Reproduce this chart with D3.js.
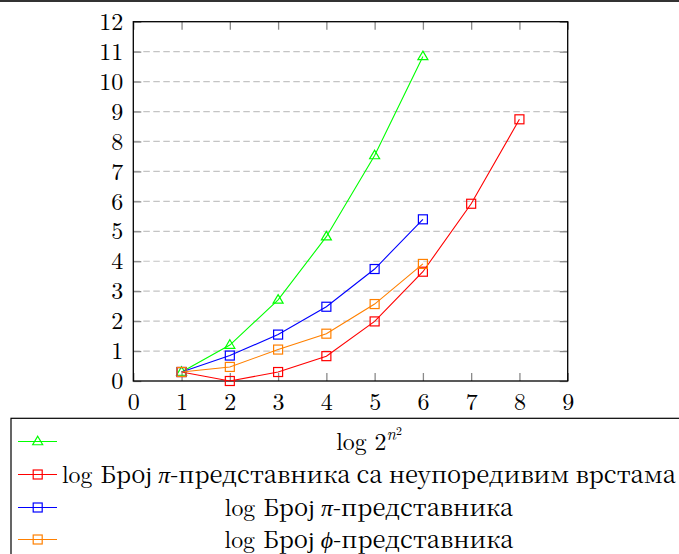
<!DOCTYPE html>
<html>
<head>
<meta charset="utf-8">
<script src="https://cdn.jsdelivr.net/npm/d3@7"></script>
</head>
<body style="margin:0;padding:0;background:#fff">
<svg id="chart" width="679" height="554" style="display:block"></svg>
<script>
// ---- data ----
const xTicks = [0,1,2,3,4,5,6,7,8,9];
const yTicks = [0,1,2,3,4,5,6,7,8,9,10,11,12];
const nGreen = [1,2,3,4,5,6];
const green = [0.30, 1.20, 2.71, 4.82, 7.53, 10.84];
const nRed = [1,2,3,4,5,6,7,8];
const red = [0.30, 0.00, 0.30, 0.83, 1.99, 3.65, 5.92, 8.74];
const nBlue = [1,2,3,4,5,6];
const blue = [0.30, 0.85, 1.55, 2.48, 3.74, 5.40];
const nOrange = [1,2,3,4,5,6];
const orange = [0.30, 0.47, 1.05, 1.58, 2.57, 3.91];

const series = [
  {n:nGreen, v:green, color:"#00ff00", mark:"triangle"},
  {n:nRed, v:red, color:"#ff0000", mark:"square"},
  {n:nBlue, v:blue, color:"#0000ff", mark:"square"},
  {n:nOrange, v:orange, color:"#ff8000", mark:"square"}
];

const FONT = '"Latin Modern Roman"';
const CYR = '"Noto Serif CJK SC"';
const svg = d3.select("#chart").attr("font-family",FONT);
const L = 133.3, R = 567.7, T = 21.7, B = 381;
const x = d3.scaleLinear().domain([0,9]).range([L,R]);
const y = d3.scaleLinear().domain([0,12]).range([B,T]);

// top rule
svg.append("line").attr("x1",0).attr("x2",679).attr("y1",1).attr("y2",1)
  .attr("stroke","#333").attr("stroke-width",2);

// grid
svg.append("g").selectAll("line").data(yTicks.filter(d=>d>0&&d<12)).join("line")
  .attr("x1",L).attr("x2",R).attr("y1",d=>y(d)).attr("y2",d=>y(d))
  .attr("stroke","#c4c4c4").attr("stroke-width",1.2).attr("stroke-dasharray","6.5,3.5");

function styleAxis(g, labels){
  g.attr("font-family",FONT).attr("font-size",null);
  g.select(".domain").remove();
  g.selectAll(".tick line").attr("stroke","#8a8a8a").attr("stroke-width",1.3);
  if(!labels) g.selectAll(".tick text").remove();
  else g.selectAll(".tick text").attr("font-size","24px").attr("font-family",FONT).attr("fill","#000");
}
svg.append("g").attr("transform",`translate(0,${B})`)
  .call(d3.axisBottom(x).tickValues(xTicks).tickSize(-8).tickPadding(11.5).tickFormat(d3.format("d")))
  .call(g=>styleAxis(g,true));
svg.append("g").attr("transform",`translate(0,${T})`)
  .call(d3.axisTop(x).tickValues(xTicks).tickSize(-8))
  .call(g=>styleAxis(g,false));
svg.append("g").attr("transform",`translate(${L},0)`)
  .call(d3.axisLeft(y).tickValues(yTicks).tickSize(-8).tickPadding(10).tickFormat(d3.format("d")))
  .call(g=>styleAxis(g,true));
svg.append("g").attr("transform",`translate(${R},0)`)
  .call(d3.axisRight(y).tickValues(yTicks).tickSize(-8))
  .call(g=>styleAxis(g,false));

// frame
svg.append("rect").attr("x",L).attr("y",T).attr("width",R-L).attr("height",B-T)
  .attr("fill","none").attr("stroke","#000").attr("stroke-width",1.3);

const sq = 9;
function drawMark(g, type, cx, cy, color){
  if(type==="square"){
    g.append("rect").attr("x",cx-sq/2).attr("y",cy-sq/2).attr("width",sq).attr("height",sq)
      .attr("fill","none").attr("stroke",color).attr("stroke-width",1.2);
  } else {
    const h = 8.5, w = 10;
    g.append("path").attr("d",`M${cx},${cy-h*0.62}L${cx+w/2},${cy+h*0.38}L${cx-w/2},${cy+h*0.38}Z`)
      .attr("fill","none").attr("stroke",color).attr("stroke-width",1.2);
  }
}

const line = d3.line().x(d=>x(d[0])).y(d=>y(d[1]));
series.forEach(s=>{
  const pts = s.n.map((n,i)=>[n,s.v[i]]);
  const g = svg.append("g");
  g.append("path").attr("d",line(pts)).attr("fill","none").attr("stroke",s.color).attr("stroke-width",1.1);
  pts.forEach(p=>drawMark(g,s.mark,x(p[0]),y(p[1]),s.color));
});

// legend
const lg = svg.append("g");
lg.append("rect").attr("x",11).attr("y",418.3).attr("width",700).attr("height",200)
  .attr("fill","#fff").attr("stroke","#000").attr("stroke-width",1.2);
const rowY = [441.5, 474.5, 507.5, 539.5];
const fs = 24;
function addText(i){
  return lg.append("text").attr("y",rowY[i]+8).attr("font-size",fs+"px").attr("font-family",FONT);
}
const texts = [];
{
  const t = addText(0);
  t.append("tspan").text("log 2");
  t.append("tspan").attr("font-style","italic").attr("font-size","17px").attr("dy",-10).text("n");
  t.append("tspan").attr("font-size","12px").attr("dy",-5).text("2");
  texts.push(t);
}
function cyr(i, sym, rest){
  const t = addText(i);
  t.append("tspan").text("log ");
  t.append("tspan").attr("class","cy").attr("font-family",CYR).text("Број ");
  t.append("tspan").attr("font-style","italic").text(sym);
  t.append("tspan").attr("class","cy").attr("font-family",CYR).text(rest);
  texts.push(t);
}
cyr(1,"π","-представника са неупоредивим врстама");
cyr(2,"π","-представника");
cyr(3,"ϕ","-представника");

// fit the long entry to its span in the reference (62..676)
const startX = 62, endX = 676, target = endX - startX;
let w0 = texts[1].node().getComputedTextLength();
const k = Math.max(0.9, Math.min(1.08, target/w0));
texts.forEach((t,i)=>{
  t.attr("font-size",(fs*k)+"px");
  if(i===0){
    t.selectAll("tspan").filter((d,j)=>j===1).attr("font-size",(17*k)+"px");
    t.selectAll("tspan").filter((d,j)=>j===2).attr("font-size",(12*k)+"px");
  }
});
w0 = texts[1].node().getComputedTextLength();
const nCy = texts[1].selectAll(".cy").nodes().reduce((a,n)=>a+n.textContent.length,0);
const ls = Math.max(-1, Math.min(1.6, (target - w0)/nCy));
lg.selectAll(".cy").attr("letter-spacing",ls);
const widths = texts.map(t=>t.node().getComputedTextLength());
const cx = startX + widths[1]/2;
texts.forEach((t,i)=>t.attr("x",cx - widths[i]/2));

series.forEach((s,i)=>{
  lg.append("line").attr("x1",18).attr("x2",57).attr("y1",rowY[i]).attr("y2",rowY[i])
    .attr("stroke",s.color).attr("stroke-width",1.1);
  drawMark(lg,s.mark,37.7,rowY[i],s.color);
});
</script>
</body>
</html>
